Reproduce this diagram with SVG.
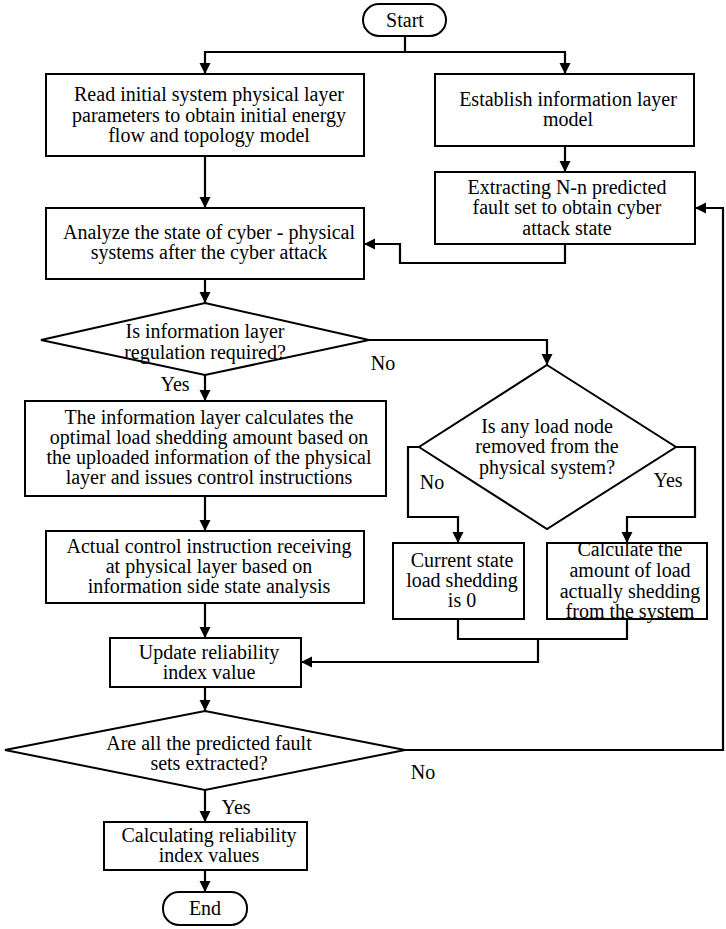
<svg xmlns="http://www.w3.org/2000/svg" width="726" height="929" viewBox="0 0 726 929">
<defs>
<marker id="arr" markerWidth="12" markerHeight="12" refX="11" refY="6" orient="auto" markerUnits="userSpaceOnUse">
<path d="M0,0.5 L11,6 L0,11.5 Z" fill="#000"/>
</marker>
<style>
.box{fill:#fff;stroke:#000;stroke-width:2}
.t{font-size:20px;fill:#000;text-anchor:middle}
.c{fill:none;stroke:#000;stroke-width:2.2}
.a{marker-end:url(#arr)}
</style>
</defs>
<rect width="726" height="929" fill="#fff"/>
<g font-family="Liberation Serif, Times New Roman, DejaVu Serif, serif">
<g id="connectors">
<path class="c a" d="M405,36 V52 H205 V74"/>
<path class="c a" d="M405,52 H565 V74"/>
<path class="c a" d="M565,146 V172"/>
<path class="c a" d="M205,156 V208"/>
<path class="c a" d="M565,244 V263 H400 V244 H364"/>
<path class="c a" d="M205,279 V303"/>
<path class="c a" d="M205,375 V401"/>
<path class="c a" d="M369,340 H547 V365"/>
<path class="c a" d="M205,496 V531"/>
<path class="c a" d="M419,447 H408 V517 H458 V543"/>
<path class="c a" d="M676,447 H695 V517 H627 V543"/>
<path class="c" d="M458,619 V639 H627 V619"/>
<path class="c a" d="M538,639 V662 H301"/>
<path class="c a" d="M205,603 V638"/>
<path class="c a" d="M205,687 V711"/>
<path class="c a" d="M405,750 H723 V208 H695"/>
<path class="c a" d="M205,790 V822"/>
<path class="c a" d="M205,870 V892"/>
<text class="t" x="383" y="370">No</text>
<text class="t" x="175" y="391">Yes</text>
<text class="t" x="432" y="489">No</text>
<text class="t" x="668" y="487">Yes</text>
<text class="t" x="423" y="779">No</text>
<text class="t" x="236" y="814">Yes</text>
</g>
<g id="start">
<rect class="box" x="363" y="4" width="83" height="32" rx="16"/>
<text class="t" x="405" y="27">Start</text>
</g>
<g id="read">
<rect class="box" x="46" y="74" width="318" height="82"/>
<text class="t" x="209" y="101">Read initial system physical layer</text>
<text class="t" x="209" y="122">parameters to obtain initial energy</text>
<text class="t" x="209" y="142">flow and topology model</text>
</g>
<g id="establish">
<rect class="box" x="435" y="74" width="259" height="72"/>
<text class="t" x="568" y="106">Establish information layer</text>
<text class="t" x="568" y="126">model</text>
</g>
<g id="extract">
<rect class="box" x="435" y="172" width="260" height="72"/>
<text class="t" x="567" y="194">Extracting N-n predicted</text>
<text class="t" x="567" y="214">fault set to obtain cyber</text>
<text class="t" x="567" y="235">attack state</text>
</g>
<g id="analyze">
<rect class="box" x="46" y="208" width="318" height="71"/>
<text class="t" x="209" y="239">Analyze the state of cyber - physical</text>
<text class="t" x="209" y="259">systems after the cyber attack</text>
</g>
<g id="dec1">
<polygon class="box" points="205,303 369,340 205,375 41,340"/>
<text class="t" x="205" y="338">Is information layer</text>
<text class="t" x="205" y="359">regulation required?</text>
</g>
<g id="infocalc">
<rect class="box" x="25" y="401" width="361" height="95"/>
<text class="t" x="209" y="424">The information layer calculates the</text>
<text class="t" x="209" y="444">optimal load shedding amount based on</text>
<text class="t" x="209" y="464">the uploaded information of the physical</text>
<text class="t" x="209" y="484">layer and issues control instructions</text>
</g>
<g id="actual">
<rect class="box" x="46" y="531" width="318" height="72"/>
<text class="t" x="209" y="553">Actual control instruction receiving</text>
<text class="t" x="209" y="573">at physical layer based on</text>
<text class="t" x="209" y="593">information side state analysis</text>
</g>
<g id="dec2">
<polygon class="box" points="547,365 676,447 547,529 419,447"/>
<text class="t" x="547" y="433">Is any load node</text>
<text class="t" x="547" y="453">removed from the</text>
<text class="t" x="547" y="474">physical system?</text>
</g>
<g id="zero">
<rect class="box" x="393" y="543" width="131" height="76"/>
<text class="t" x="462" y="567">Current state</text>
<text class="t" x="462" y="587">load shedding</text>
<text class="t" x="462" y="607">is 0</text>
</g>
<g id="calcload">
<rect class="box" x="547" y="543" width="160" height="76"/>
<text class="t" x="630" y="556">Calculate the</text>
<text class="t" x="630" y="577">amount of load</text>
<text class="t" x="630" y="598">actually shedding</text>
<text class="t" x="630" y="618">from the system</text>
</g>
<g id="update">
<rect class="box" x="110" y="638" width="191" height="49"/>
<text class="t" x="209" y="659">Update reliability</text>
<text class="t" x="209" y="679">index value</text>
</g>
<g id="dec3">
<polygon class="box" points="205,711 405,750 205,790 5,750"/>
<text class="t" x="209" y="750">Are all the predicted fault</text>
<text class="t" x="209" y="770">sets extracted?</text>
</g>
<g id="calcrel">
<rect class="box" x="104" y="822" width="203" height="48"/>
<text class="t" x="209" y="842">Calculating reliability</text>
<text class="t" x="209" y="862">index values</text>
</g>
<g id="end">
<rect class="box" x="163" y="892" width="84" height="33" rx="16"/>
<text class="t" x="205" y="915">End</text>
</g>
</g>
</svg>
